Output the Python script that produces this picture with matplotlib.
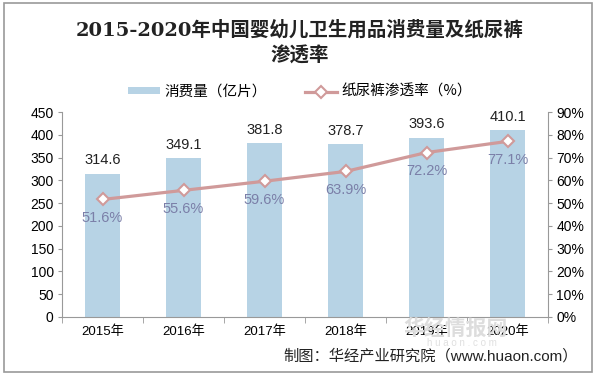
import matplotlib.pyplot as plt
import numpy as np

plt.rcParams['font.family'] = ['Liberation Sans', 'Noto Sans CJK SC', 'DejaVu Sans']

years = ['2015年', '2016年', '2017年', '2018年', '2019年', '2020年']
consumption = [314.6, 349.1, 381.8, 378.7, 393.6, 410.1]
penetration = [51.6, 55.6, 59.6, 63.9, 72.2, 77.1]

bar_color = '#b7d3e5'
line_color = '#d09a9a'
pct_color = '#7b7fa8'
cjk = ['Noto Sans CJK SC', 'DejaVu Sans']

fig = plt.figure(figsize=(6, 3.77), dpi=100)
fig.patches.append(plt.Rectangle((0.007, 0.013), 0.98, 0.98, transform=fig.transFigure,
                                 fill=False, edgecolor='#999999', linewidth=1.2))

ax = fig.add_axes([62 / 600, 1 - 317 / 377, 486 / 600, 205 / 377])
x = np.arange(len(years))
ax.bar(x, consumption, width=0.44, color=bar_color, label='消费量（亿片）', zorder=2)
for xi, v in zip(x, consumption):
    ax.text(xi, v + 14, f'{v:.1f}', ha='center', va='bottom', fontsize=10.5, color='#222222')

ax.set_xlim(-0.5, len(years) - 0.5)
ax.set_ylim(0, 450)
ax.set_yticks(np.arange(0, 451, 50))
ax.set_xticks(x)
ax.set_xticklabels(years, fontsize=9.5)
ax.set_xticks(np.arange(-0.5, len(years), 1), minor=True)
ax.tick_params(axis='x', which='major', length=0, pad=6)
ax.tick_params(axis='x', which='minor', length=4, color='#999999')
ax.tick_params(axis='y', length=3, color='#999999', labelsize=10, pad=3)
for s in ['top', 'right']:
    ax.spines[s].set_visible(False)
ax.spines['left'].set_color('#999999')
ax.spines['bottom'].set_color('#999999')

ax2 = ax.twinx()
ax2.plot(x, penetration, color=line_color, linewidth=2.3, marker='D', markersize=6,
         markerfacecolor='white', markeredgecolor=line_color, markeredgewidth=1.5,
         label='纸尿裤渗透率（%）', zorder=3)
for xi, v in zip(x, penetration):
    ax2.text(xi, v - 5.0, f'{v:.1f}%', ha='center', va='top', fontsize=10.5, color=pct_color)
ax2.set_ylim(0, 90)
ax2.set_yticks(np.arange(0, 91, 10))
ax2.set_yticklabels([f'{t}%' for t in range(0, 91, 10)])
ax2.tick_params(axis='y', length=3, color='#999999', labelsize=10, pad=3)
for s in ['top', 'left', 'bottom']:
    ax2.spines[s].set_visible(False)
ax2.spines['right'].set_color('#999999')

h1, l1 = ax.get_legend_handles_labels()
h2, l2 = ax2.get_legend_handles_labels()
fig.legend(h1 + h2, l1 + l2, loc='center', bbox_to_anchor=(0.5, 1 - 92 / 377), ncol=2,
           frameon=False, prop={'family': cjk, 'size': 10.5}, handlelength=2.2,
           handleheight=0.35, columnspacing=2.6, handletextpad=0.3)

fig.text(0.5, 1 - 30 / 377, '2015-2020年中国婴幼儿卫生用品消费量及纸尿裤', ha='center', va='center',
         fontsize=14, fontweight='bold', color='#222222', family=['DejaVu Serif', 'Noto Sans CJK SC'])
fig.text(0.5, 1 - 56 / 377, '渗透率', ha='center', va='center',
         fontsize=14, fontweight='bold', color='#222222', family=cjk)

fig.text(456 / 600, 1 - 328 / 377, '华经情报网', ha='center', va='center', fontsize=15,
         fontweight='bold', color='#dddddd', zorder=0, family=cjk)
fig.text(462 / 600, 1 - 343 / 377, 'h u a o n . c o m', ha='center', va='center', fontsize=7,
         color='#e0e0e0', zorder=0)
fig.text(578 / 600, 1 - 356 / 377, '制图：华经产业研究院（www.huaon.com）', ha='right', va='center',
         fontsize=11, color='#222222')

fig.savefig('out.png', dpi=100)
